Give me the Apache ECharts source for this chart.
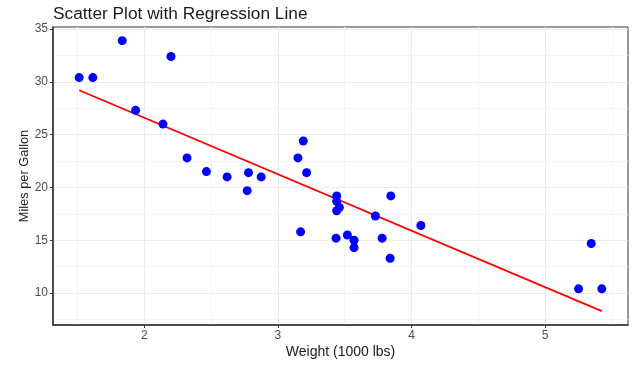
<!DOCTYPE html>
<html>
<head>
<meta charset="utf-8">
<script src="https://cdn.jsdelivr.net/npm/echarts@6/dist/echarts.min.js"></script>
<style>
  html, body { margin: 0; padding: 0; background: #fff; }
  #chart { width: 644px; height: 376px; }
</style>
</head>
<body>
<div id="chart"></div>
<script>
    // car weight (1000 lbs) and miles per gallon
    const weights = [2.620, 2.875, 2.320, 3.215, 3.440, 3.460, 3.570, 3.190, 3.150, 3.440, 3.440,
        4.070, 3.730, 3.780, 5.250, 5.424, 5.345, 2.200, 1.615, 1.835, 2.465, 3.520, 3.435,
        3.840, 3.845, 1.935, 2.140, 1.513, 3.170, 2.770, 3.570, 2.780];
    const mpg = [21.0, 21.0, 22.8, 21.4, 18.7, 18.1, 14.3, 24.4, 22.8, 19.2, 17.8,
        16.4, 17.3, 15.2, 10.4, 10.4, 14.7, 32.4, 30.4, 33.9, 21.5, 15.5, 15.2,
        13.3, 19.2, 27.3, 26.0, 30.4, 15.8, 19.7, 15.0, 21.4];
    // fitted line endpoints
    const fitX = [1.513, 5.424];
    const fitY = [29.2, 8.3];
    // tick labels and minor grid positions
    const ticksX = [2, 3, 4, 5];
    const ticksY = [10, 15, 20, 25, 30, 35];
    const minorX = [1.5, 2.5, 3.5, 4.5, 5.5];
    const minorY = [7.5, 12.5, 17.5, 22.5, 27.5, 32.5];

    const chart = echarts.init( document.getElementById( 'chart' ) );
    const points = weights.map( ( w, i ) => [ w, mpg[i] ] );
    const fit = fitX.map( ( x, i ) => [ x, fitY[i] ] );
    const axisFont = { color: '#4d4d4d', fontSize: 12, fontFamily: 'Liberation Sans' };

    chart.setOption( {
        animation: false,
        backgroundColor: '#ffffff',
        title: {
            text: 'Scatter Plot with Regression Line',
            left: 48,
            top: 1,
            textStyle: { color: '#1a1a1a', fontSize: 17.3, fontWeight: 'normal', fontFamily: 'Liberation Sans' }
        },
        grid: {
            left: 53, right: 16, top: 27, bottom: 51,
            show: true, borderColor: '#333333', borderWidth: 1
        },
        xAxis: {
            type: 'value',
            min: 1.317, max: 5.62,
            name: 'Weight (1000 lbs)',
            nameLocation: 'middle',
            nameGap: 20,
            nameMoveOverlap: false,
            nameTextStyle: { color: '#1a1a1a', fontSize: 14, fontFamily: 'Liberation Sans', verticalAlign: 'top' },
            axisLine: { show: true, lineStyle: { color: '#333333', width: 1.5 } },
            axisTick: { show: true, length: 3, customValues: ticksX, lineStyle: { color: '#333333' } },
            axisLabel: Object.assign( { customValues: ticksX, margin: 5 }, axisFont ),
            splitLine: { show: true, lineStyle: { color: '#ebebeb', width: 1 } }
        },
        yAxis: {
            type: 'value',
            min: 6.98, max: 35.19,
            name: 'Miles per Gallon',
            nameLocation: 'middle',
            nameGap: 22,
            nameMoveOverlap: false,
            nameTextStyle: { color: '#1a1a1a', fontSize: 12.8, fontFamily: 'Liberation Sans' },
            axisLine: { show: true, lineStyle: { color: '#333333', width: 1.5 } },
            axisTick: { show: true, length: 3, customValues: ticksY, lineStyle: { color: '#333333' } },
            axisLabel: Object.assign( { customValues: ticksY, margin: 5 }, axisFont ),
            splitLine: { show: true, lineStyle: { color: '#ebebeb', width: 1 } }
        },
        series: [ {
            type: 'line',
            data: [],
            silent: true,
            z: 0,
            markLine: {
                silent: true,
                z: 0,
                symbol: 'none',
                label: { show: false },
                emphasis: { disabled: true },
                lineStyle: { color: '#f4f4f4', width: 1, type: 'solid' },
                data: minorX.map( v => ( { xAxis: v } ) ).concat( minorY.map( v => ( { yAxis: v } ) ) )
            }
        }, {
            type: 'line',
            data: fit,
            showSymbol: false,
            silent: true,
            lineStyle: { color: '#ff0000', width: 1.8 },
            z: 3
        }, {
            type: 'scatter',
            data: points,
            symbolSize: 9,
            itemStyle: { color: '#0000ff', opacity: 1 },
            z: 4
        } ]
    } );
</script>
</body>
</html>
